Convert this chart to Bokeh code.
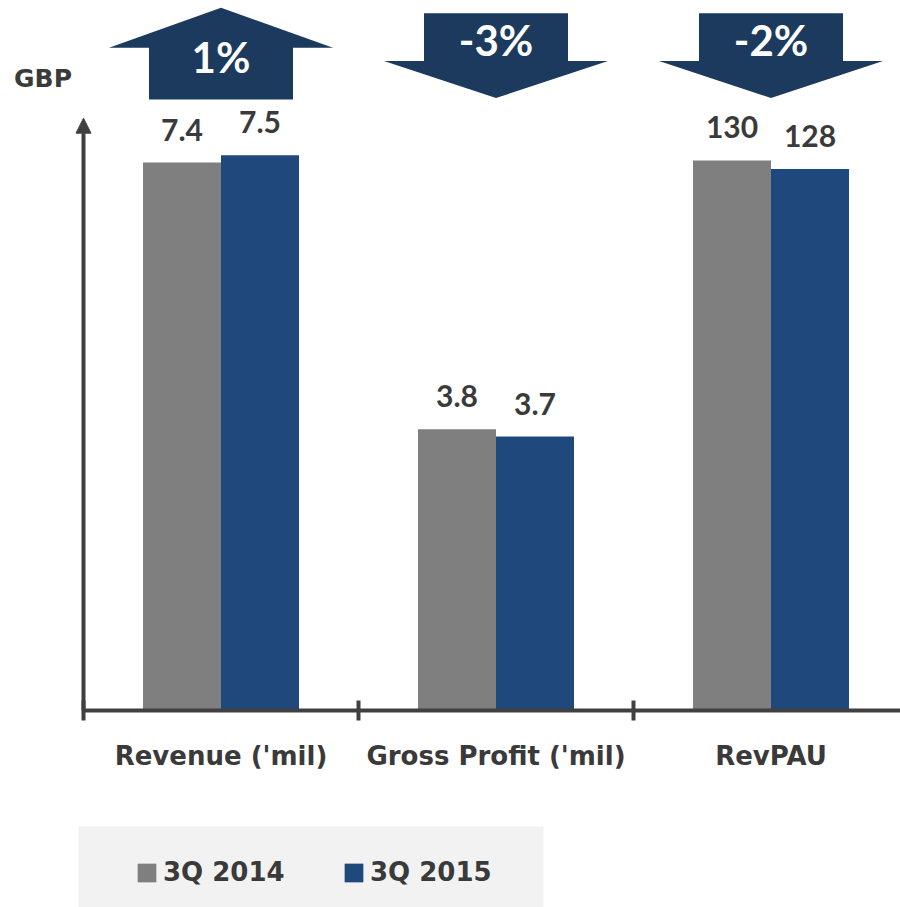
import numpy as np
from bokeh.plotting import figure
from bokeh.models import (Range1d, FixedTicker, ColumnDataSource, LabelSet, Legend,
                          LegendItem, Arrow, NormalHead, BoxAnnotation, Label)
from bokeh.core.properties import value
from bokeh.embed import file_html
from bokeh.resources import INLINE

# ---------------- data ----------------
categories = ["Revenue ('mil)", "Gross Profit ('mil)", "RevPAU"]
series_names = ["3Q 2014", "3Q 2015"]
values_2014 = [7.4, 3.8, 130]
values_2015 = [7.5, 3.7, 128]
labels_2014 = ["7.4", "3.8", "130"]
labels_2015 = ["7.5", "3.7", "128"]
change_labels = ["1%", "-3%", "-2%"]
change_up = [True, False, False]
category_scale = ["default", "default", "revpau"]   # RevPAU drawn on its own scale
unit_label = "GBP"
axis_top = 8.0

# ---------------- styling / geometry ----------------
GRAY = "#7f7f7f"
BLUE = "#1f497d"
NAVY = "#1b3a5e"
TXT = "#3a3a3a"
AX = "#404040"
FONT = "Lato"
CAT_FONT = "DejaVu Sans"

W, H = 900, 907
X0 = 83.0               # canvas x of data x = 0
B = 710.0               # canvas y of data y = 0
CAT_PX = 275.0          # px per category
MIL_PX = 74.04          # px per 'mil unit
REV_PX = 4.231          # px per RevPAU unit


def px_x(px):
    return (px - X0) / CAT_PX


def px_y(py):
    return (B - py) / MIL_PX


p = figure(width=W, height=H,
           x_range=Range1d(px_x(0), px_x(W)),
           y_range=Range1d(px_y(H), px_y(0)),
           output_backend="svg", toolbar_location=None,
           min_border_left=0, min_border_right=0,
           min_border_top=0, min_border_bottom=0)
p.extra_y_ranges = {"revpau": Range1d((B - H) / REV_PX, B / REV_PX)}
p.outline_line_color = None
p.grid.visible = False
p.yaxis.visible = False
p.background_fill_color = "white"
p.border_fill_color = "white"

x_centers = np.arange(len(categories)) + 0.5
bar_w = 78 / CAT_PX

# legend background
p.add_layout(BoxAnnotation(left=px_x(78), right=px_x(543), top=px_y(826), bottom=px_y(H + 5),
                           fill_color="#f2f2f2", fill_alpha=1.0, line_color=None,
                           level="underlay"))

renderers = {name: [] for name in series_names}
for name, vals, labs, color, off in [
        (series_names[0], values_2014, labels_2014, GRAY, -bar_w / 2),
        (series_names[1], values_2015, labels_2015, BLUE, bar_w / 2)]:
    for scale in ["default", "revpau"]:
        idx = [k for k, s in enumerate(category_scale) if s == scale]
        src = ColumnDataSource(dict(x=[x_centers[k] + off for k in idx],
                                    top=[vals[k] for k in idx],
                                    label=[labs[k] for k in idx]))
        r = p.vbar(x="x", top="top", width=bar_w, source=src, fill_color=color,
                   line_color=None, y_range_name=scale)
        renderers[name].append(r)
        p.add_layout(LabelSet(x="x", y="top", text="label", source=src, y_range_name=scale,
                              y_offset=22, text_align="center", text_baseline="alphabetic",
                              text_font=value(FONT), text_font_style="bold",
                              text_font_size="30px", text_color=TXT))

# x axis fixed at y = 0: boundary ticks as minor ticks, labels at category centres
xa = p.xaxis[0]
xa.fixed_location = 0
xa.bounds = (0, px_x(W))
xa.ticker = FixedTicker(ticks=list(x_centers), minor_ticks=list(range(len(categories) + 1)))
xa.major_label_overrides = {float(c): cat for c, cat in zip(x_centers, categories)}
xa.major_tick_line_color = None
xa.major_tick_in = 0
xa.major_tick_out = 0
xa.minor_tick_in = 10
xa.minor_tick_out = 10
xa.minor_tick_line_width = 4
xa.minor_tick_line_color = AX
xa.axis_line_width = 4
xa.axis_line_color = AX
xa.major_label_standoff = 20
xa.major_label_text_font = CAT_FONT
xa.major_label_text_font_style = "bold"
xa.major_label_text_font_size = "26px"
xa.major_label_text_color = TXT

# y axis line with arrow head
p.add_layout(Arrow(end=NormalHead(size=15, fill_color=AX, line_color=AX, line_width=1),
                   x_start=0, y_start=0, x_end=0, y_end=axis_top,
                   line_width=4, line_color=AX))

p.add_layout(Label(x=px_x(42.5), y=px_y(78), text=unit_label, text_align="center",
                   text_baseline="alphabetic", text_font=CAT_FONT, text_font_style="bold",
                   text_font_size="25px", text_color=TXT))

# change arrows
xs, ys, tx, ty = [], [], [], []
sh, wh = 72 / CAT_PX, 112 / CAT_PX
for c, up in zip(x_centers, change_up):
    if up:
        xs.append([c, c + wh, c + sh, c + sh, c - sh, c - sh, c - wh])
        ys.append([px_y(7.3), px_y(47.3), px_y(47.3), px_y(99), px_y(99), px_y(47.3), px_y(47.3)])
        ty.append(px_y(72))
    else:
        xs.append([c - sh, c + sh, c + sh, c + wh, c, c - wh, c - sh])
        ys.append([px_y(12.7), px_y(12.7), px_y(60.5), px_y(60.5), px_y(97.5), px_y(60.5), px_y(60.5)])
        ty.append(px_y(55))
    tx.append(c)
p.patches(xs=xs, ys=ys, fill_color=NAVY, line_color=None)
chg_src = ColumnDataSource(dict(x=tx, y=ty, text=change_labels))
p.add_layout(LabelSet(x="x", y="y", text="text", source=chg_src, text_align="center",
                      text_baseline="alphabetic", text_font=value(FONT), text_font_style="bold",
                      text_font_size="42px", text_color="white"))

legend = Legend(items=[LegendItem(label=n, renderers=renderers[n]) for n in series_names],
                orientation="horizontal", location=(135, H - 887),
                padding=0, margin=0, spacing=54, label_standoff=5,
                glyph_width=23, glyph_height=23, label_width=125, label_height=23,
                label_text_font=CAT_FONT, label_text_font_style="bold",
                label_text_font_size="26px", label_text_color=TXT,
                background_fill_alpha=0, border_line_color=None)
p.add_layout(legend)

open("out.html", "w").write(file_html(p, INLINE))
